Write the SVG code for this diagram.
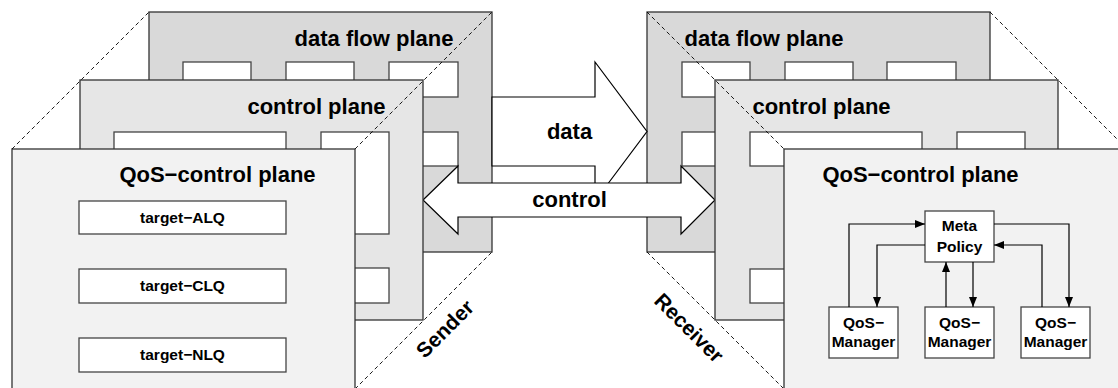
<svg xmlns="http://www.w3.org/2000/svg" width="1118" height="388" viewBox="0 0 1118 388">
<defs>
<style>
.dp{fill:#d9d9d9;stroke:#333;stroke-width:1.3}
.cp{fill:#e6e6e6;stroke:#333;stroke-width:1.3}
.qp{fill:#f2f2f2;stroke:#333;stroke-width:1.3}
.box{fill:#fff;stroke:#444;stroke-width:1.3}
.t{font-family:"Liberation Sans",Arial,sans-serif;font-weight:bold;fill:#000}
.title{font-size:22px;text-anchor:middle}
.small{font-size:15.5px;text-anchor:middle}
.dash{stroke:#000;stroke-width:0.9;stroke-dasharray:4 3;fill:none}
.arrow{fill:#fff;stroke:#000;stroke-width:1.2}
.conn{stroke:#000;stroke-width:1.2;fill:none;marker-end:url(#ah)}
</style>
<marker id="ah" markerUnits="userSpaceOnUse" markerWidth="10" markerHeight="8" refX="10" refY="4" orient="auto">
<path d="M0,0 L10,4 L0,8 z" fill="#000"/>
</marker>
</defs>
<rect width="1118" height="388" fill="#fff"/>

<g id="sender-data-plane">
<rect class="dp" x="149" y="12" width="343" height="240"/>
<rect class="box" x="183" y="62" width="68" height="35"/>
<rect class="box" x="286" y="62" width="68" height="35"/>
<rect class="box" x="389" y="62" width="69" height="35"/>
<rect class="box" x="183" y="132" width="68" height="34"/>
<rect class="box" x="286" y="132" width="68" height="34"/>
<rect class="box" x="389" y="132" width="69" height="34"/>
<text class="t title" x="374" y="46">data flow plane</text>
</g>

<g id="receiver-data-plane">
<rect class="dp" x="647" y="12" width="343" height="240"/>
<rect class="box" x="682" y="62" width="68" height="35"/>
<rect class="box" x="785" y="62" width="68" height="35"/>
<rect class="box" x="887" y="62" width="69" height="35"/>
<rect class="box" x="682" y="132" width="68" height="34"/>
<rect class="box" x="785" y="132" width="68" height="34"/>
<rect class="box" x="887" y="132" width="69" height="34"/>
<text class="t title" x="764" y="46">data flow plane</text>
</g>

<g id="connectors">
<g id="data-arrow">
<polygon class="arrow" points="492,97 595,97 595,62 647,131.5 595,201 595,166 492,166"/>
<text class="t title" x="569.5" y="139">data</text>
</g>
<g id="control-arrow">
<polygon class="arrow" points="423,200 458,166 458,183 681,183 681,166 715,200 681,234 681,217 458,217 458,234"/>
<text class="t title" x="569.5" y="207">control</text>
</g>
</g>

<g id="sender-control-plane">
<rect class="cp" x="80" y="80" width="343" height="240"/>
<rect class="box" x="114" y="132" width="172" height="34"/>
<rect class="box" x="321" y="132" width="68" height="102"/>
<rect class="box" x="114" y="268" width="172" height="35"/>
<rect class="box" x="321" y="268" width="68" height="35"/>
<text class="t title" x="316.5" y="114">control plane</text>
</g>

<g id="receiver-control-plane">
<rect class="cp" x="715" y="80" width="343" height="240"/>
<rect class="box" x="750" y="132" width="172" height="34"/>
<rect class="box" x="957" y="132" width="68" height="102"/>
<rect class="box" x="750" y="269" width="172" height="34"/>
<rect class="box" x="957" y="269" width="68" height="34"/>
<text class="t title" x="821.5" y="114">control plane</text>
</g>

<g id="sender-qos-plane">
<rect class="qp" x="12" y="149" width="343" height="250"/>
<text class="t title" x="217.5" y="182">QoS−control plane</text>
<g id="target-alq">
<rect class="box" x="79" y="201" width="207" height="33"/>
<text class="t small" x="182.5" y="223">target−ALQ</text>
</g>
<g id="target-clq">
<rect class="box" x="79" y="269" width="207" height="34"/>
<text class="t small" x="182.5" y="291">target−CLQ</text>
</g>
<g id="target-nlq">
<rect class="box" x="79" y="338" width="207" height="34"/>
<text class="t small" x="182.5" y="360">target−NLQ</text>
</g>
</g>

<g id="receiver-qos-plane">
<rect class="qp" x="784" y="149" width="400" height="250"/>
<text class="t title" x="920.5" y="182">QoS−control plane</text>
<g id="meta-policy">
<rect class="box" x="925" y="211" width="69" height="51"/>
<text class="t small" x="959.5" y="231">Meta</text>
<text class="t small" x="959.5" y="252">Policy</text>
</g>
<g id="qos-manager-1">
<rect class="box" x="829" y="307" width="69" height="51"/>
<text class="t small" x="863.5" y="328">QoS−</text>
<text class="t small" x="863.5" y="347">Manager</text>
</g>
<g id="qos-manager-2">
<rect class="box" x="925" y="307" width="69" height="51"/>
<text class="t small" x="959.5" y="328">QoS−</text>
<text class="t small" x="959.5" y="347">Manager</text>
</g>
<g id="qos-manager-3">
<rect class="box" x="1021" y="307" width="69" height="51"/>
<text class="t small" x="1055.5" y="328">QoS−</text>
<text class="t small" x="1055.5" y="347">Manager</text>
</g>
<g id="qos-connectors">
<path class="conn" d="M849,307 V224 H925"/>
<path class="conn" d="M925,245 H877 V307"/>
<path class="conn" d="M946,307 V262"/>
<path class="conn" d="M973,262 V307"/>
<path class="conn" d="M994,224 H1069 V307"/>
<path class="conn" d="M1042,307 V245 H994"/>
</g>
</g>

<g id="perspective-lines">
<line class="dash" x1="12" y1="149" x2="149" y2="12"/>
<line class="dash" x1="355" y1="149" x2="492" y2="12"/>
<line class="dash" x1="355" y1="389" x2="492" y2="252"/>
<line class="dash" x1="647" y1="12" x2="784" y2="149"/>
<line class="dash" x1="990" y1="12" x2="1127" y2="149"/>
<line class="dash" x1="647" y1="252" x2="784" y2="389"/>
</g>

<text class="t" font-size="21" text-anchor="middle" transform="translate(450,334) rotate(-45)">Sender</text>
<text class="t" font-size="21" text-anchor="middle" transform="translate(684,333) rotate(45)">Receiver</text>
</svg>
